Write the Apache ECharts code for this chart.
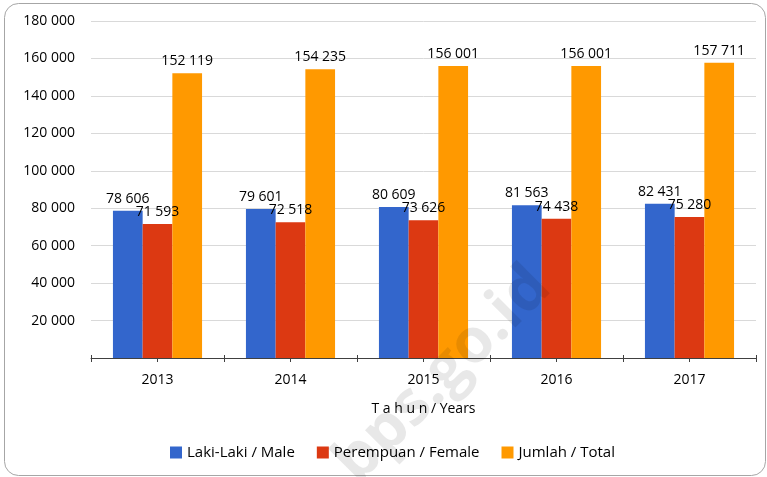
<!DOCTYPE html>
<html>
<head>
<meta charset="utf-8">
<script src="https://cdn.jsdelivr.net/npm/echarts@6/dist/echarts.min.js"></script>
<style>
  html, body { margin: 0; padding: 0; background: #fff; }
  #chart { width: 767px; height: 477px; }
</style>
</head>
<body>
<div id="chart"></div>
<script>
var years = ["2013", "2014", "2015", "2016", "2017"];
var male = [78606, 79601, 80609, 81563, 82431];
var female = [71593, 72518, 73626, 74438, 75280];
var total = [152119, 154235, 156001, 156001, 157711];
var seriesNames = ["Laki-Laki / Male", "Perempuan / Female", "Jumlah / Total"];
var colors = ["#3366cc", "#dc3912", "#ff9900"];

var font = "'Open Sans', 'Noto Sans', sans-serif";

// thousands separated by a space, as in the source
function fmt(v) {
  return String(v).replace(/\B(?=(\d{3})+(?!\d))/g, " ");
}

var chart = echarts.init(document.getElementById("chart"));

function barSeries(name, data, color) {
  return {
    name: name,
    type: "bar",
    data: data,
    barGap: 0,
    barCategoryGap: "33%",
    itemStyle: { color: color },
    label: {
      show: true,
      position: "top",
      distance: 5,
      fontFamily: font,
      fontSize: 14,
      color: "#000",
      formatter: function (p) { return fmt(p.value); }
    }
  };
}

// extra axes used only for the ticks crossing the axis line
function tickAxis(alignCenter) {
  return {
    type: "category",
    data: years,
    position: "bottom",
    offset: -3,
    axisLine: { show: false },
    axisLabel: { show: false },
    axisTick: {
      show: true,
      alignWithLabel: alignCenter,
      length: 7,
      lineStyle: { color: "#404040", width: 1 }
    }
  };
}

var option = {
  backgroundColor: "#fff",
  textStyle: { fontFamily: font },
  color: colors,
  grid: { left: 91, right: 11, top: 21, bottom: 119 },
  legend: {
    bottom: 12,
    left: 165,
    itemWidth: 12,
    itemHeight: 12,
    itemGap: 22,
    icon: "rect",
    textStyle: { fontFamily: font, fontSize: 15, color: "#000" },
    data: seriesNames
  },
  xAxis: [
    {
      type: "category",
      data: years,
      name: "T a h u n / Years",
      nameLocation: "middle",
      nameGap: 44,
      nameTextStyle: { fontFamily: font, fontSize: 14, color: "#000" },
      axisLine: { lineStyle: { color: "#404040", width: 1 } },
      axisTick: { show: false },
      axisLabel: { margin: 15, fontFamily: font, fontSize: 14, color: "#000" }
    },
    tickAxis(false),
    tickAxis(true)
  ],
  yAxis: {
    type: "value",
    min: 0,
    max: 180000,
    interval: 20000,
    axisLine: { show: false },
    axisTick: { show: false },
    axisLabel: {
      showMinLabel: false,
      margin: 16,
      fontFamily: font,
      fontSize: 14,
      color: "#000",
      formatter: fmt
    },
    splitLine: { lineStyle: { color: "#d9d9d9", width: 1 } }
  },
  graphic: [
    {
      type: "rect",
      shape: { x: 4.5, y: 3.5, width: 761, height: 472, r: 14 },
      style: { fill: "none", stroke: "#a6a6a6", lineWidth: 1 },
      z: -1
    },
    {
      type: "text",
      x: 443,
      y: 375,
      rotation: Math.PI / 4,
      style: {
        text: "bps.go.id",
        fontFamily: font,
        fontWeight: "bold",
        fontSize: 62,
        fill: "rgba(0,0,0,0.09)",
        align: "center",
        verticalAlign: "middle"
      },
      z: 100
    }
  ],
  series: [
    barSeries(seriesNames[0], male, colors[0]),
    barSeries(seriesNames[1], female, colors[1]),
    barSeries(seriesNames[2], total, colors[2])
  ]
};

chart.setOption(option);
</script>
</body>
</html>
